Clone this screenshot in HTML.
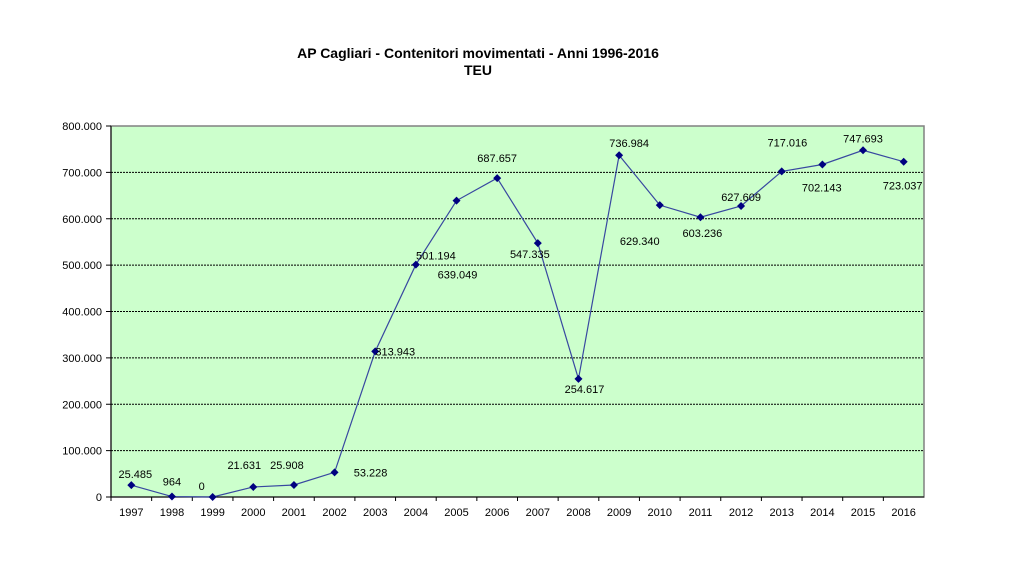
<!DOCTYPE html>
<html><head><meta charset="utf-8"><style>
body{margin:0;background:#fff;}
svg text{font-family:"Liberation Sans",Arial,sans-serif;}
</style></head><body>
<svg width="1024" height="576" viewBox="0 0 1024 576">
<text x="478" y="58" text-anchor="middle" font-size="14" font-weight="bold" fill="#000">AP Cagliari  - Contenitori movimentati - Anni 1996-2016</text>
<text x="478" y="75" text-anchor="middle" font-size="14" font-weight="bold" fill="#000">TEU</text>
<rect x="111" y="126" width="813" height="371" fill="#ccffcc" stroke="#808080" stroke-width="1.5"/>
<g id="grid"></g><g id="axes"></g><g id="series"></g><g id="labels"></g>
</svg>
<script>
const years=["1997","1998","1999","2000","2001","2002","2003","2004","2005","2006","2007","2008","2009","2010","2011","2012","2013","2014","2015","2016"];
const teu=[25485,964,0,21631,25908,53228,313943,501194,639049,687657,547335,254617,736984,629340,603236,627609,702143,717016,747693,723037];
const valueLabels=["25.485","964","0","21.631","25.908","53.228","313.943","501.194","639.049","687.657","547.335","254.617","736.984","629.340","603.236","627.609","702.143","717.016","747.693","723.037"];
const yTicks=[0,100000,200000,300000,400000,500000,600000,700000,800000];
const yTickLabels=["0","100.000","200.000","300.000","400.000","500.000","600.000","700.000","800.000"];
const labelOffsets=[[4,-11],[0,-15],[-11,-11],[-9,-22],[-7,-20],[36,0],[20,0],[20,-9],[1,74],[0,-20],[-8,11],[6,10],[10,-12],[-20,36],[2,16],[0,-9],[40,16],[-35,-22],[0,-12],[-1,24]];
const NS="http://www.w3.org/2000/svg";
const X0=111,X1=924,Y0=497,Y1=126,step=(X1-X0)/years.length;
const x=i=>X0+step*(i+0.5);
const y=v=>Y0-(v/800000)*(Y0-Y1);
function mk(t,a,p){const e=document.createElementNS(NS,t);for(const k in a)e.setAttribute(k,a[k]);p.appendChild(e);return e;}
const grid=document.getElementById('grid'),axes=document.getElementById('axes'),ser=document.getElementById('series'),lab=document.getElementById('labels');
yTicks.forEach((v,i)=>{
 if(v>0&&v<800000){const g=mk('line',{x1:X0,x2:X1,y1:y(v),y2:y(v),stroke:'#000','stroke-width':1,'stroke-dasharray':'2,1'},grid);
 
 }
 const tk=mk('line',{x1:X0-5,x2:X0,y1:y(v),y2:y(v),stroke:'#000'},axes);
 
 
 const t=mk('text',{x:X0-9,y:y(v)+4,'text-anchor':'end','font-size':11,fill:'#000'},axes);
 t.textContent=yTickLabels[i];
 
 
});
const ax=mk('line',{x1:X0,x2:X1,y1:Y0,y2:Y0,stroke:'#000','stroke-width':1},axes);


const ay=mk('line',{x1:X0,x2:X0,y1:Y0,y2:Y1,stroke:'#000','stroke-width':1},axes);


years.forEach((yr,i)=>{
 const tk=mk('line',{x1:X0+step*i,x2:X0+step*i,y1:Y0,y2:Y0+4,stroke:'#000'},axes);
 
 
 const t=mk('text',{x:x(i),y:Y0+19,'text-anchor':'middle','font-size':11,fill:'#000'},axes);
 t.textContent=yr;
 
 
});
const pl=mk('polyline',{points:teu.map((v,i)=>x(i)+','+y(v)).join(' '),fill:'none',stroke:'#3848a0','stroke-width':1.2},ser);


teu.forEach((v,i)=>{
 const cx=x(i),cy=y(v);
 const m=mk('polygon',{points:`${cx},${cy-4} ${cx+4},${cy} ${cx},${cy+4} ${cx-4},${cy}`,fill:'#000080'},ser);
 
 
 const o=labelOffsets[i];
 const t=mk('text',{x:cx+o[0],y:cy+o[1]+4,'text-anchor':'middle','font-size':11,fill:'#000'},lab);
 t.textContent=valueLabels[i];
 
 
});
</script>
</body></html>
